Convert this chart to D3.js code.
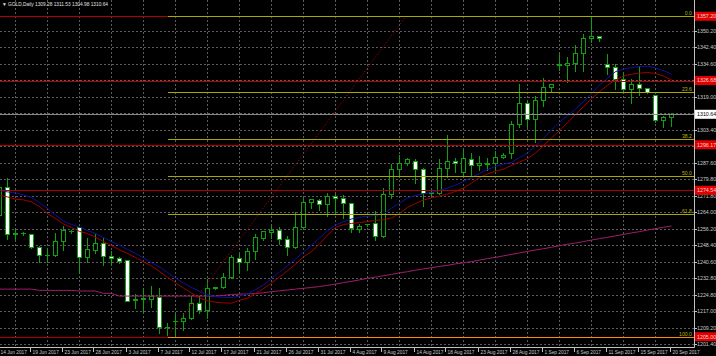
<!DOCTYPE html>
<html><head><meta charset="utf-8">
<script src="https://cdn.jsdelivr.net/npm/d3@7"></script>
<style>html,body{margin:0;padding:0;background:#000;overflow:hidden}svg{display:block}</style>
</head><body>
<svg id="c" width="716" height="356"></svg>
<script>
// ---- data ----
const symbolTitle = "GOLD,Daily";
const lastOHLC = ["1309.28", "1311.53", "1304.98", "1310.64"];
const dateLabels = ["14 Jun 2017","19 Jun 2017","23 Jun 2017","28 Jun 2017","3 Jul 2017","7 Jul 2017","12 Jul 2017","17 Jul 2017","21 Jul 2017","26 Jul 2017","31 Jul 2017","4 Aug 2017","9 Aug 2017","14 Aug 2017","18 Aug 2017","23 Aug 2017","28 Aug 2017","1 Sep 2017","6 Sep 2017","11 Sep 2017","15 Sep 2017","20 Sep 2017"];
const priceTicks = [1350.20,1342.40,1334.60,1326.80,1319.00,1311.20,1303.40,1295.60,1287.60,1279.80,1271.80,1264.00,1256.20,1248.40,1240.60,1232.80,1224.80,1217.00,1209.20,1201.40];
const open = [1262.8,1275.9,1253.9,1254.3,1253.8,1247.7,1243.6,1243.7,1250.3,1255.3,
1257.2,1242.7,1246.2,1249.4,1243.5,1242.5,1241.3,1222.5,1222.9,1223.1,
1224.0,1209.5,1212.3,1212.6,1213.7,1220.9,1217.7,1228.3,1228.5,1233.2,
1242.4,1240.6,1245.6,1252.1,1254.6,1255.7,1251.3,1247.5,1257.2,1268.8,
1269.9,1268.0,1271.8,1271.0,1268.3,1256.1,1258.4,1258.9,1252.8,1272.6,
1284.5,1287.3,1288.6,1284.5,1273.2,1273.4,1285.0,1288.6,1283.4,1289.5,
1286.4,1287.2,1287.3,1290.2,1292.1,1305.9,1316.1,1308.5,1317.4,1323.4,
1334.2,1334.0,1334.8,1339.6,1346.7,1347.8,1334.5,1332.9,1327.2,1322.5,
1324.8,1323.0,1319.6,1307.9,1309.28];
const high = [1277.0,1281.0,1257.0,1255.3,1254.2,1248.5,1247.5,1254.9,1258.0,1256.0,
1257.6,1252.5,1254.1,1252.5,1246.2,1243.3,1241.8,1225.9,1228.7,1229.6,
1228.5,1212.1,1216.1,1216.9,1224.8,1224.8,1232.7,1229.1,1235.9,1244.3,
1244.7,1247.6,1254.1,1255.7,1258.4,1257.6,1253.3,1264.8,1271.5,1270.7,
1270.7,1273.9,1273.2,1272.8,1269.1,1258.9,1259.2,1265.2,1276.2,1287.3,
1291.8,1290.3,1289.7,1285.7,1274.7,1289.7,1301.3,1290.5,1294.5,1292.8,
1291.3,1290.3,1293.7,1292.8,1307.9,1325.3,1317.4,1319.8,1328.5,1325.3,
1339.6,1338.4,1344.0,1349.1,1357.2,1348.3,1339.9,1334.8,1330.7,1327.7,
1334.0,1323.7,1320.2,1310.3,1311.53];
const low = [1261.9,1251.3,1251.3,1253.3,1247.1,1240.6,1240.6,1243.5,1246.2,1254.1,
1235.4,1240.6,1244.7,1239.1,1239.1,1240.0,1222.0,1218.5,1216.9,1219.3,
1206.8,1205.8,1205.0,1208.2,1213.3,1216.1,1213.7,1227.7,1228.0,1232.7,
1235.1,1236.7,1241.9,1250.9,1251.9,1248.8,1244.0,1247.0,1256.0,1266.0,
1265.2,1262.3,1263.3,1261.2,1254.9,1254.9,1257.8,1250.9,1252.3,1270.7,
1281.0,1286.5,1277.8,1267.1,1271.6,1273.0,1281.0,1283.4,1281.8,1281.8,
1284.2,1284.2,1284.2,1289.9,1289.9,1304.7,1304.7,1297.6,1314.5,1321.8,
1331.6,1325.8,1331.3,1331.3,1345.1,1345.6,1329.7,1322.5,1321.3,1315.8,
1319.8,1320.9,1307.1,1304.4,1304.98];
const close = [1275.9,1253.8,1254.2,1254.4,1247.7,1243.6,1243.8,1250.4,1255.5,1255.4,
1242.7,1246.5,1249.4,1243.5,1242.5,1241.0,1222.1,1222.7,1223.6,1224.3,
1209.5,1209.6,1212.7,1214.0,1220.9,1217.7,1228.0,1228.5,1233.2,1242.9,
1240.6,1245.7,1252.2,1255.0,1255.7,1251.3,1247.7,1257.3,1268.8,1270.2,
1268.0,1271.8,1270.7,1268.3,1256.5,1257.7,1258.6,1252.8,1272.6,1284.5,
1287.3,1289.2,1284.5,1273.1,1273.5,1285.0,1288.6,1287.6,1289.7,1286.4,
1287.3,1287.4,1290.2,1291.1,1305.9,1316.1,1308.5,1317.4,1323.4,1324.8,
1334.4,1334.8,1339.6,1346.7,1347.8,1346.7,1333.2,1327.2,1322.5,1324.8,
1323.0,1321.3,1307.9,1309.2,1310.64];
const maBlue = [1274.4,1273.8,1273.3,1272.3,1271.1,1268.7,1265.9,1262.8,1259.9,1258.3,
1257.1,1255.4,1254.0,1252.1,1250.2,1248.5,1246.4,1244.5,1242.4,1240.2,
1238.1,1235.5,1232.9,1230.5,1228.4,1226.5,1225.0,1224.0,1223.7,1223.6,
1224.3,1225.3,1227.4,1229.6,1232.6,1235.7,1238.8,1241.9,1245.2,1248.5,
1251.9,1255.4,1258.0,1259.6,1260.9,1261.8,1262.2,1262.6,1263.3,1266.1,
1268.5,1270.9,1272.1,1272.8,1273.5,1274.4,1275.6,1277.0,1278.7,1280.6,
1282.5,1284.4,1285.9,1286.9,1287.8,1290.1,1292.2,1295.8,1299.2,1303.2,
1306.9,1310.0,1313.1,1316.7,1320.5,1324.5,1327.8,1330.9,1332.1,1332.8,
1333.3,1333.5,1332.6,1331.4,1329.7];
const maRed = [1272.1,1271.4,1270.3,1270.0,1269.0,1266.7,1263.5,1261.1,1258.5,1256.9,
1255.0,1254.0,1252.3,1250.2,1248.3,1246.3,1244.5,1242.6,1240.5,1238.6,
1236.0,1233.2,1230.7,1228.1,1225.8,1223.4,1222.0,1221.4,1221.1,1220.9,
1222.3,1223.3,1225.5,1227.9,1230.5,1233.4,1236.4,1239.5,1242.9,1245.5,
1249.0,1253.3,1256.9,1258.3,1258.8,1259.2,1259.7,1260.2,1260.6,1261.4,
1263.5,1266.4,1268.3,1269.9,1270.9,1271.8,1272.8,1274.0,1275.6,1278.0,
1280.6,1282.3,1283.6,1284.6,1286.3,1288.0,1289.6,1292.2,1295.8,1299.4,
1302.9,1306.7,1310.5,1314.3,1318.1,1321.4,1324.3,1326.9,1328.8,1329.7,
1330.2,1330.5,1330.0,1328.8,1326.9];
const maPurple = [1227.6,1227.6,1227.6,1227.6,1227.6,1227.0,1227.0,1227.0,1227.0,1227.0,
1226.7,1226.7,1226.7,1225.6,1225.6,1224.3,1224.3,1224.3,1224.3,1224.3,
1224.3,1224.3,1224.3,1224.3,1224.3,1224.3,1224.3,1224.3,1224.6,1225.1,
1225.2,1225.3,1225.5,1225.9,1226.4,1226.8,1227.2,1227.6,1228.0,1228.4,
1228.8,1229.4,1230.0,1230.7,1231.3,1232.0,1232.7,1233.3,1234.0,1234.6,
1235.3,1235.9,1236.6,1237.2,1237.8,1238.4,1238.9,1239.6,1240.1,1240.7,
1241.4,1242.1,1242.7,1243.4,1244.1,1244.8,1245.5,1246.2,1246.8,1247.5,
1248.2,1248.9,1249.5,1250.2,1250.9,1251.6,1252.2,1252.9,1253.6,1254.3,
1254.9,1255.7,1256.3,1257.0,1257.6];
const hLines = [1357.20, 1326.68, 1296.17, 1274.54, 1205.00];
const fibLow = {bar: 21, price: 1205.00};
const fibHigh = {bar: 50.8, price: 1357.20};
const fibRatios = [0, 23.6, 38.2, 50.0, 61.8, 100.0];
const fibLabels = ["0.0", "23.6", "38.2", "50.0", "61.8", "100.0"];
const lastPrice = 1310.64;

// ---- layout ----
const W = 716, H = 356, plotR = 694, plotB = 347;
const svg = d3.select("#c");
svg.append("rect").attr("width", W).attr("height", H).attr("fill", "#000");
const n = close.length;
const x = d3.scaleLinear().domain([0, n - 1]).range([-0.5, 671.5]);
const y = d3.scaleLinear().domain([1201.40, 1350.20]).range([344.3, 31]);
svg.append("defs").append("clipPath").attr("id", "pc")
  .append("rect").attr("x", 0).attr("y", 0).attr("width", plotR).attr("height", plotB);
const plot = svg.append("g").attr("clip-path", "url(#pc)");
const py = v => Math.round(y(v)) + 0.5;

// grid
const gridCol = "#5c5c5c";
plot.append("g").selectAll("line").data(priceTicks).join("line")
  .attr("x1", 0).attr("x2", plotR).attr("y1", d => py(d)).attr("y2", d => py(d))
  .attr("stroke", gridCol).attr("stroke-dasharray", "2,2").attr("shape-rendering", "crispEdges");
const vGrid = d3.range(2, n, 4);
plot.append("g").selectAll("line").data(vGrid).join("line")
  .attr("x1", d => x(d)).attr("x2", d => x(d)).attr("y1", 0).attr("y2", plotB)
  .attr("stroke", gridCol).attr("stroke-dasharray", "2,2").attr("shape-rendering", "crispEdges");

// candles
const green = "#0ea00e";
const idx = d3.range(n);
const cg = plot.append("g");
cg.selectAll("line.w").data(idx).join("line").attr("class", "w")
  .attr("x1", i => x(i)).attr("x2", i => x(i))
  .attr("y1", i => py(high[i])).attr("y2", i => py(low[i]))
  .attr("stroke", green).attr("shape-rendering", "crispEdges");
idx.forEach(i => {
  const top = py(Math.max(open[i], close[i])), bot = py(Math.min(open[i], close[i]));
  const bull = close[i] >= open[i];
  if (bot - top < 1) {
    cg.append("line").attr("x1", x(i) - 2.5).attr("x2", x(i) + 2.5)
      .attr("y1", top).attr("y2", top).attr("stroke", green).attr("shape-rendering", "crispEdges");
  } else {
    cg.append("rect").attr("x", x(i) - 2).attr("width", 4)
      .attr("y", top).attr("height", bot - top)
      .attr("fill", bull ? "#000" : "#fff").attr("stroke", green).attr("shape-rendering", "crispEdges");
  }
});

// moving averages
const line = d3.line().x((d, i) => x(i)).y(d => y(d));
plot.append("path").datum(maPurple).attr("d", line).attr("fill", "none").attr("stroke", "#a01e6c").attr("stroke-width", 1);
plot.append("path").datum(maRed).attr("d", line).attr("fill", "none").attr("stroke", "#a00000").attr("stroke-width", 1);
plot.append("path").datum(maBlue).attr("d", line).attr("fill", "none").attr("stroke", "#1010a0").attr("stroke-width", 1);

// horizontal lines
plot.append("g").selectAll("line").data(hLines).join("line")
  .attr("x1", 0).attr("x2", plotR).attr("y1", d => py(d)).attr("y2", d => py(d))
  .attr("stroke", "#b00000").attr("shape-rendering", "crispEdges");
// current price line
plot.append("line").attr("x1", 0).attr("x2", plotR).attr("y1", py(lastPrice)).attr("y2", py(lastPrice))
  .attr("stroke", "#8a8a8a").attr("shape-rendering", "crispEdges");

// fibonacci
const fibPrice = r => fibHigh.price - (fibHigh.price - fibLow.price) * r / 100;
const fx0 = x(fibLow.bar);
plot.append("line").attr("x1", fx0).attr("y1", y(fibLow.price)).attr("x2", x(fibHigh.bar)).attr("y2", y(fibHigh.price))
  .attr("stroke", "#a00000").attr("stroke-width", 1).attr("stroke-dasharray", "1.2,1.8");
const font = "Liberation Sans, Arial, sans-serif";
fibRatios.forEach((r, k) => {
  const yy = py(fibPrice(r));
  const col = r === 100 ? "#ff8c00" : "#a8a800";
  plot.append("line").attr("x1", fx0).attr("x2", plotR).attr("y1", yy).attr("y2", yy)
    .attr("stroke", col).attr("shape-rendering", "crispEdges");
  plot.append("text").attr("x", 692).attr("y", yy - 1.5).attr("text-anchor", "end")
    .attr("font-family", font).attr("font-size", 5.2)
    .attr("fill", "#b4b400").text(fibLabels[k]);
});

// frame
svg.append("line").attr("x1", plotR + 0.5).attr("x2", plotR + 0.5).attr("y1", 0).attr("y2", plotB + 0.5)
  .attr("stroke", "#c0c0c0");
svg.append("line").attr("x1", 0).attr("x2", plotR + 0.5).attr("y1", plotB + 0.5).attr("y2", plotB + 0.5)
  .attr("stroke", "#c0c0c0");

// price axis (labels covered by level boxes are hidden, as in the terminal)
const boxed = hLines.concat([lastPrice]);
const ax = svg.append("g");
priceTicks.forEach(p => {
  const yy = py(p);
  ax.append("line").attr("x1", plotR).attr("x2", plotR + 3).attr("y1", yy).attr("y2", yy).attr("stroke", "#c0c0c0");
  if (boxed.some(b => Math.abs(y(b) - y(p)) < 4)) return;
  ax.append("text").attr("x", 697).attr("y", yy).attr("dy", "0.35em")
    .attr("font-family", font).attr("font-size", 5.3).attr("fill", "#c8c8c8").text(p.toFixed(2));
});
hLines.forEach(p => {
  const yy = y(p);
  ax.append("rect").attr("x", 695).attr("y", yy - 4.5).attr("width", 21).attr("height", 9).attr("fill", "#e00000");
  ax.append("text").attr("x", 697).attr("y", yy).attr("dy", "0.35em")
    .attr("font-family", font).attr("font-size", 5.3).attr("fill", "#ffd0d0").text(p.toFixed(2));
});
{
  const yy = y(lastPrice);
  ax.append("rect").attr("x", 695).attr("y", yy - 4.5).attr("width", 21).attr("height", 9).attr("fill", "#ffffff");
  ax.append("text").attr("x", 697).attr("y", yy).attr("dy", "0.35em")
    .attr("font-family", font).attr("font-size", 5.3).attr("fill", "#000").text(lastPrice.toFixed(2));
}

// date axis
dateLabels.forEach((lab, k) => {
  const xx = Math.round(x(k * 4)) - 1.5;
  svg.append("line").attr("x1", xx).attr("x2", xx).attr("y1", plotB).attr("y2", plotB + 5).attr("stroke", "#c0c0c0");
  svg.append("text").attr("x", xx + 2).attr("y", 353.5)
    .attr("font-family", font).attr("font-size", 4.8).attr("fill", "#c8c8c8").text(lab);
});

// title
svg.append("text").attr("x", 2).attr("y", 6)
  .attr("font-family", font).attr("font-size", 4.8).attr("fill", "#e0e0e0")
  .text("\u25BC " + symbolTitle + " " + lastOHLC.join(" "));
</script>
</body></html>
